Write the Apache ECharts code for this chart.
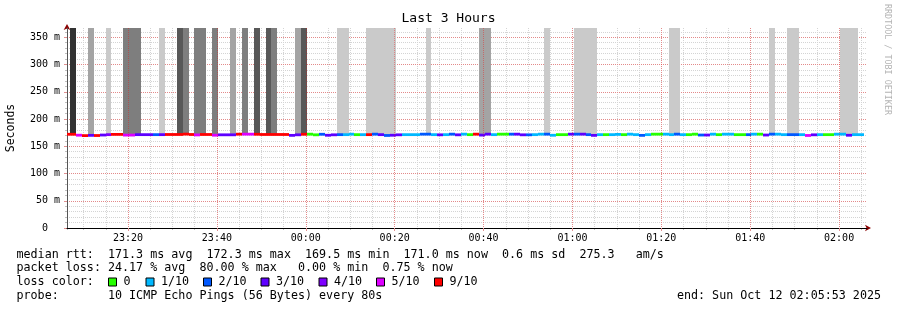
<!DOCTYPE html>
<html><head><meta charset="utf-8">
<script src="https://cdn.jsdelivr.net/npm/echarts@6/dist/echarts.min.js"></script>
<style>html,body{margin:0;padding:0;background:#fff}#c{width:897px;height:310px}</style>
</head><body><div id="c"></div>
<script>
// ---- data ----
const lossLevels = [0, 1, 2, 3, 4, 5, 9];
const lossLabels = ['0', '1/10', '2/10', '3/10', '4/10', '5/10', '9/10'];
const lossColors = ['#26ff00', '#00b8ff', '#0059ff', '#5e00ff', '#7e00ff', '#dd00ff', '#ff0000'];
const smokeColors = ['#cacaca', '#a4a4a4', '#7e7e7e', '#585858', '#323232'];
const firstStepTime = '23:05:37';
const stepSeconds = 80;
const viewStartTime = '23:06:16.5';
const viewHours = 3;
const yMaxMs = 367;
const smokeTopMs = 400;
const medianMs = [
 172.0,172.0,170.3,169.5,170.0,169.7,170.6,171.3,171.8,171.8,
 170.5,170.5,171.3,171.3,171.3,171.3,171.3,171.6,171.6,171.6,
 172.3,171.6,170.8,171.6,171.6,170.3,171.0,171.0,171.0,172.2,
 172.2,172.2,172.0,171.6,171.6,171.6,171.6,171.6,170.0,171.0,
 172.0,172.2,171.0,172.0,170.2,171.0,171.3,171.3,172.2,171.3,
 171.3,171.3,172.2,171.3,169.8,170.2,171.0,171.3,171.3,171.3,
 172.2,172.2,171.3,171.0,171.3,172.2,171.0,172.2,171.3,172.2,
 170.5,172.2,171.3,172.2,172.2,172.2,172.2,171.0,171.0,171.3,
 172.2,172.2,170.2,171.3,171.3,172.2,172.2,172.2,171.3,170.0,
 171.3,171.3,171.3,171.8,171.3,172.2,171.3,170.0,171.3,172.2,
 172.2,172.2,171.3,172.2,171.3,171.3,172.2,170.6,170.6,172.2,
 171.3,172.2,172.2,171.3,171.3,171.3,172.2,172.2,170.6,172.2,
 172.2,171.3,171.3,171.3,171.3,169.8,171.0,171.3,171.3,171.3,
 172.2,172.2,170.2,171.3,171.3
];
const lossCount = [
 9,9,5,9,3,9,3,4,9,9,
 5,5,3,3,3,2,3,9,9,9,
 9,9,5,9,9,5,3,3,3,9,
 5,5,9,9,9,9,9,9,3,3,
 9,0,0,2,3,3,2,1,1,0,
 1,9,2,3,2,3,3,1,1,1,
 2,2,1,3,1,2,3,1,0,9,
 3,3,1,0,0,2,3,3,2,1,
 1,2,1,0,0,3,2,3,2,3,
 1,0,1,1,0,1,1,2,1,0,
 0,1,1,2,1,0,0,2,3,1,
 0,1,1,0,0,2,1,0,3,2,
 1,1,2,2,1,5,3,1,0,0,
 1,1,3,1,1
];
const smokeLevel = [
 0,5,0,0,2,0,0,1,0,0,
 3,3,3,0,0,0,1,0,0,4,
 3,0,3,3,0,3,0,0,2,0,
 3,0,4,0,4,3,0,0,0,2,
 4,0,0,0,0,0,1,1,0,0,
 0,1,1,1,1,1,0,0,0,0,
 0,1,0,0,0,0,0,0,0,0,
 2,2,0,0,0,0,0,0,0,0,
 0,1,0,0,0,0,1,1,1,1,
 0,0,0,0,0,0,0,0,0,0,
 0,0,1,1,0,0,0,0,0,0,
 0,0,0,0,0,0,0,0,0,1,
 0,0,1,1,0,0,0,0,0,0,
 0,1,1,1,0
];
const titleText = 'Last 3 Hours';
const yAxisTitle = 'Seconds';
const rttLine = 'median rtt:  171.3 ms avg  172.3 ms max  169.5 ms min  171.0 ms now  0.6 ms sd  275.3   am/s';
const lossLine = 'packet loss: 24.17 % avg  80.00 % max   0.00 % min  0.75 % now';
const lossColorLabel = 'loss color:';
const probeLine = 'probe:       10 ICMP Echo Pings (56 Bytes) every 80s';
const endLine = 'end: Sun Oct 12 02:05:53 2025';
const creditText = 'RRDTOOL / TOBI OETIKER';

// ---- helpers ----
function toSec(s) { const p = s.split(':').map(Number); let v = p[0]*3600 + p[1]*60 + (p[2]||0); if (p[0] < 12) v += 86400; return v; }
const t0 = toSec(firstStepTime);
const viewMin = toSec(viewStartTime);
const viewMax = viewMin + viewHours*3600;
function lossIndex(n) { let k = 0; for (let i = 0; i < lossLevels.length; i++) if (n >= lossLevels[i]) k = i; return k; }
function pad(n) { return (n < 10 ? '0' : '') + n; }
function fmtTime(v) { const s = ((Math.round(v) % 86400) + 86400) % 86400; return pad(Math.floor(s/3600)) + ':' + pad(Math.floor((s % 3600)/60)); }

const slots = medianMs.map((m, i) => [t0 + i*stepSeconds, t0 + (i+1)*stepSeconds, m, lossCount[i], smokeLevel[i]]);
const MONO = 'DejaVu Sans Mono';

function clip(shape, params) {
  const cs = params.coordSys;
  return echarts.graphic.clipRectByRect(shape, {x: cs.x, y: cs.y, width: cs.width, height: cs.height});
}

const chart = echarts.init(document.getElementById('c'), null, {renderer: 'canvas'});

// legend row graphics
const boxX = [108.5, 146, 203.5, 261, 319, 376.5, 434.5];
const legendGraphics = [];
const rowY = [254.5, 268.3, 282, 296];
const textX = 16.5;
const fs = 11.7;
[rttLine, lossLine, lossColorLabel, probeLine].forEach((t, i) => {
  legendGraphics.push({type: 'text', x: textX, y: rowY[i], silent: true,
    style: {text: t, fontFamily: MONO, fontSize: fs, fill: '#000', verticalAlign: 'middle', align: 'left'}});
});
lossLabels.forEach((lab, i) => {
  legendGraphics.push({type: 'rect', shape: {x: boxX[i], y: rowY[2] - 4, width: 8, height: 8},
    style: {fill: lossColors[i], stroke: '#000', lineWidth: 1}, silent: true});
  legendGraphics.push({type: 'text', x: boxX[i] + 15, y: rowY[2], silent: true,
    style: {text: lab, fontFamily: MONO, fontSize: fs, fill: '#000', verticalAlign: 'middle', align: 'left'}});
});
legendGraphics.push({type: 'text', x: 881, y: rowY[3], silent: true,
  style: {text: endLine, fontFamily: MONO, fontSize: fs, fill: '#000', verticalAlign: 'middle', align: 'right'}});
legendGraphics.push({type: 'text', x: 887.5, y: 59.5, rotation: -Math.PI/2, silent: true,
  style: {text: creditText, fontFamily: MONO, fontSize: 8.4, fill: '#b4b4b4', verticalAlign: 'middle', align: 'center'}});

const gridLineMinor = {color: '#d4d4d4', width: 1, type: [1, 1]};
const gridLineMajor = {color: 'rgba(255,0,0,0.35)', width: 1, type: [1, 1]};

const option = {
  backgroundColor: '#ffffff',
  animation: false,
  title: {text: titleText, left: 'center', top: 12, padding: 0,
    textStyle: {fontFamily: MONO, fontSize: 13, fontWeight: 'normal', color: '#000'}},
  grid: {left: 67, top: 28, width: 800, height: 200, containLabel: false, outerBoundsMode: 'none'},
  xAxis: [
    { type: 'value', position: 'bottom', offset: 0, min: viewMin, max: viewMax, minInterval: 300, maxInterval: 300, splitNumber: 36, z: 0,
      axisLine: {show: true, onZero: false, lineStyle: {color: '#8b0000', width: 1}, symbol: ['none', 'arrow'], symbolSize: [5, 6], symbolOffset: [0, 4]},
      axisTick: {show: true, length: 2, lineStyle: {color: '#c0c0c0'}},
      axisLabel: {show: false},
      splitLine: {show: true, showMinLine: false, showMaxLine: false, lineStyle: gridLineMinor} },
    { type: 'value', position: 'bottom', offset: 0, min: viewMin, max: viewMax, minInterval: 1200, maxInterval: 1200, splitNumber: 9, z: 5,
      axisLine: {show: true, onZero: false, lineStyle: {color: '#000', width: 1}},
      axisTick: {show: true, length: 3, lineStyle: {color: '#e09090'}},
      axisLabel: {show: true, formatter: fmtTime, showMinLabel: false, showMaxLabel: false, margin: 5,
        fontFamily: MONO, fontSize: 10, color: '#000'},
      splitLine: {show: true, showMinLine: false, showMaxLine: false, lineStyle: gridLineMajor} }
  ],
  yAxis: [
    { type: 'value', position: 'left', offset: 0, min: 0, max: yMaxMs, interval: 10, z: 0,
      axisLine: {show: true, onZero: false, lineStyle: {color: '#8b0000', width: 1}, symbol: ['none', 'arrow'], symbolSize: [5, 6], symbolOffset: [0, 4]},
      axisTick: {show: true, length: 2, lineStyle: {color: '#c0c0c0'}},
      axisLabel: {show: false},
      splitLine: {show: true, showMinLine: false, showMaxLine: false, lineStyle: gridLineMinor} },
    { type: 'value', position: 'left', offset: 0, min: 0, max: yMaxMs, interval: 50, z: 1,
      name: yAxisTitle, nameLocation: 'middle', nameRotate: 90, nameGap: 50,
      nameTextStyle: {fontFamily: MONO, fontSize: 11.5, color: '#000'},
      axisLine: {show: true, onZero: false, lineStyle: {color: '#555', width: 1}},
      axisTick: {show: true, length: 3, lineStyle: {color: '#e09090'}},
      axisLabel: {show: true, showMaxLabel: false, margin: 7, fontFamily: MONO, fontSize: 10, color: '#000',
        formatter: v => v === 0 ? '0  ' : (v + ' m')},
      splitLine: {show: true, showMinLine: false, showMaxLine: false, lineStyle: gridLineMajor} }
  ],
  graphic: legendGraphics,
  series: [
    { type: 'custom', name: 'smoke', xAxisIndex: 1, yAxisIndex: 1, z: 2, silent: true,
      data: slots, encode: {x: [0, 1], y: 2},
      renderItem: (params, api) => {
        const lvl = api.value(4);
        if (!lvl) return null;
        const a = api.coord([api.value(0), smokeTopMs]);
        const b = api.coord([api.value(1), api.value(2)]);
        const x0 = Math.round(a[0]), x1 = Math.round(b[0]);
        const shape = clip({x: x0, y: a[1], width: x1 - x0, height: b[1] - a[1]}, params);
        if (!shape) return null;
        return {type: 'rect', shape, style: {fill: smokeColors[lvl - 1]}};
      } },
    { type: 'custom', name: 'median', xAxisIndex: 1, yAxisIndex: 1, z: 3, silent: true,
      data: slots, encode: {x: [0, 1], y: 2},
      renderItem: (params, api) => {
        const a = api.coord([api.value(0), api.value(2)]);
        const b = api.coord([api.value(1), api.value(2)]);
        const x0 = Math.round(a[0]), x1 = Math.round(b[0]);
        const shape = clip({x: x0, y: a[1] - 1.4, width: x1 - x0, height: 2.8}, params);
        if (!shape) return null;
        return {type: 'rect', shape, style: {fill: lossColors[lossIndex(api.value(3))]}};
      } }
  ]
};
chart.setOption(option);
</script></body></html>
